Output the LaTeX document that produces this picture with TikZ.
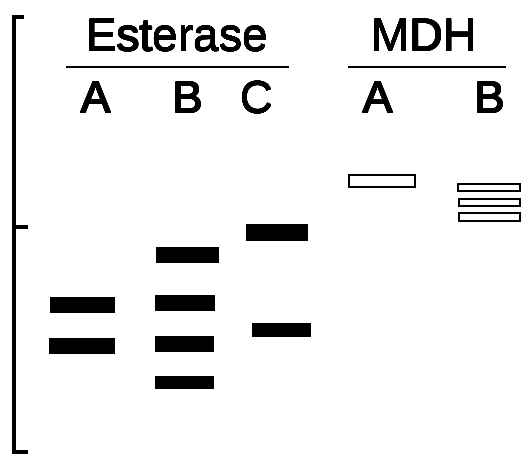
\documentclass[tikz,border=0pt]{standalone}
\usepackage{fontspec}
\setmainfont{Liberation Sans}
\usepackage{contour}
\contourlength{0.15pt}
\contournumber{16}
\begin{document}
\begin{tikzpicture}[x=1pt,y=-1pt,
  hdr/.style={anchor=base,inner sep=0pt,font=\fontsize{46}{52}\selectfont},
  lane/.style={anchor=base,inner sep=0pt,font=\fontsize{45}{52}\selectfont},
  band/.style={fill=black,draw=none},
  oband/.style={draw=black,line width=1.4pt,fill=white},
  axisline/.style={line width=3.3pt},
  rule/.style={line width=1.3pt}]
\useasboundingbox (0,0) rectangle (528,459);
% axis
\coordinate (ax1) at (14,17);
\coordinate (ax2) at (14,452);
\coordinate (t1) at (24,17);
\coordinate (t2a) at (14,227);
\coordinate (t2) at (28,227);
\coordinate (t3) at (28,452);
\draw[axisline] (t1) -- (ax1) -- (ax2) -- (t3);
\draw[axisline] (t2a) -- (t2);
% headers
\node[hdr] (est) at (177,51) {\contour{black}{Esterase}};
\node[hdr] (mdh) at (424,51) {\contour{black}{MDH}};
\coordinate (r1a) at (66,67); \coordinate (r1b) at (289,67);
\coordinate (r2a) at (348,67); \coordinate (r2b) at (506,67);
\draw[rule] (r1a) -- (r1b);
\draw[rule] (r2a) -- (r2b);
% lane labels
\node[lane] (eA) at (96,113) {\contour{black}{A}};
\node[lane] (eB) at (188,113) {\contour{black}{B}};
\node[lane] (eC) at (257,113) {\contour{black}{C}};
\node[lane] (mA) at (378,113) {\contour{black}{A}};
\node[lane] (mB) at (490,113) {\contour{black}{B}};
% esterase bands
\fill[band] (50,297) rectangle (115,313);
\fill[band] (49,338) rectangle (115,354);
\fill[band] (156,247) rectangle (219,263);
\fill[band] (155,295) rectangle (215,311);
\fill[band] (155,336) rectangle (214,352);
\fill[band] (155,376) rectangle (214,389);
\fill[band] (246,224) rectangle (308,241);
\fill[band] (252,323) rectangle (311,337);
% MDH bands
\draw[oband] (349,175) rectangle (415,187);
\draw[oband] (458,184) rectangle (520,191);
\draw[oband] (459,199) rectangle (520,206);
\draw[oband] (459,213) rectangle (520,221);
\end{tikzpicture}
\end{document}
